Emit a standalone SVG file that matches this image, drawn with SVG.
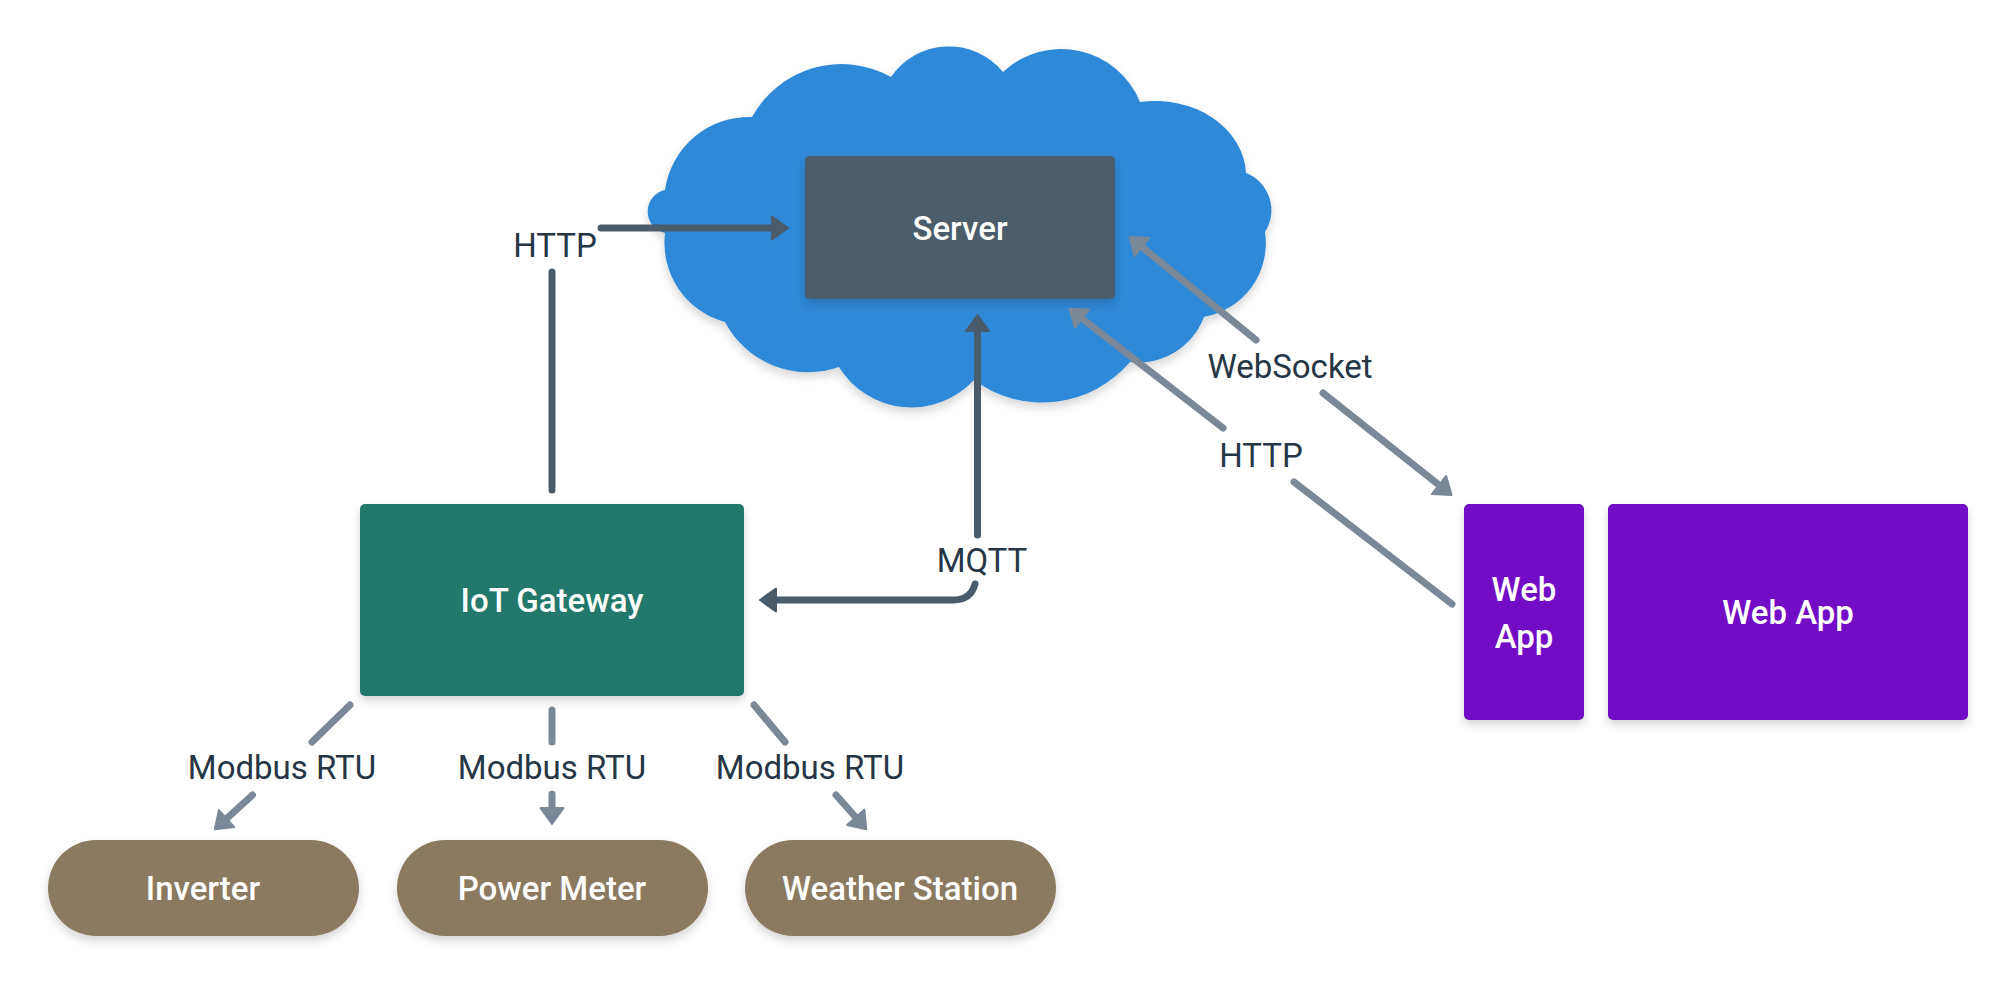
<svg xmlns="http://www.w3.org/2000/svg" width="2016" height="984" viewBox="0 0 2016 984">
<defs>
<filter id="sh" x="-20%" y="-20%" width="140%" height="150%">
<feDropShadow dx="0" dy="5" stdDeviation="5" flood-color="#000" flood-opacity="0.16"/>
</filter>
<marker id="arrD" markerUnits="userSpaceOnUse" markerWidth="21" markerHeight="28" viewBox="-2 -14 21 28" refX="0" refY="0" orient="auto" overflow="visible">
<path d="M0,-11.5 L16,0 L0,11.5 Z" fill="#4a5b6b" stroke="#4a5b6b" stroke-width="2" stroke-linejoin="round"/>
</marker>
<marker id="arrL" markerUnits="userSpaceOnUse" markerWidth="21" markerHeight="28" viewBox="-2 -14 21 28" refX="0" refY="0" orient="auto" overflow="visible">
<path d="M0,-11.5 L16,0 L0,11.5 Z" fill="#7a8897" stroke="#7a8897" stroke-width="2" stroke-linejoin="round"/>
</marker>
<style>
.lbl{font-family:Roboto,"Noto Sans",sans-serif;font-size:33px;font-weight:500;fill:#ffffff;text-anchor:middle}
.elbl{font-family:Roboto,"Noto Sans",sans-serif;font-size:33px;font-weight:400;fill:#263646;text-anchor:middle}
.cd{fill:none;stroke:#4a5b6b;stroke-width:7;stroke-linecap:round;stroke-linejoin:round}
.cl{fill:none;stroke:#7a8897;stroke-width:7;stroke-linecap:round;stroke-linejoin:round}
</style>
</defs>
<rect x="0" y="0" width="2016" height="984" fill="#ffffff"/>

<g id="cloud">
<path filter="url(#sh)" fill="#2e89d8" d="M665 190 A85 85 0 0 1 752 117 A102 102 0 0 1 891 77 A70 70 0 0 1 1003 72 A85 85 0 0 1 1140 102 A91 75 0 0 1 1246 173 A40 40 0 0 1 1265 232 A75 75 0 0 1 1204 317 A70 70 0 0 1 1130 362 A115 115 0 0 1 974 380 A85 85 0 0 1 839 367 A94 94 0 0 1 725 322 A82 82 0 0 1 665 233 A22 22 0 0 1 665 190 Z"/>
</g>

<g id="server">
<rect x="805" y="156" width="310" height="143" rx="5" fill="#4b5c6b" filter="url(#sh)"/>
<text class="lbl" x="960" y="240">Server</text>
</g>

<g id="gateway">
<rect x="360" y="504" width="384" height="192" rx="5" fill="#20786a" filter="url(#sh)"/>
<text class="lbl" x="552" y="612">IoT Gateway</text>
</g>

<g id="inverter">
<rect x="48" y="840" width="311" height="96" rx="48" fill="#8b7a5e" filter="url(#sh)"/>
<text class="lbl" x="203" y="900">Inverter</text>
</g>

<g id="powermeter">
<rect x="397" y="840" width="311" height="96" rx="48" fill="#8b7a5e" filter="url(#sh)"/>
<text class="lbl" x="552" y="900">Power Meter</text>
</g>

<g id="weatherstation">
<rect x="745" y="840" width="311" height="96" rx="48" fill="#8b7a5e" filter="url(#sh)"/>
<text class="lbl" x="900" y="900">Weather Station</text>
</g>

<g id="webapp-small">
<rect x="1464" y="504" width="120" height="216" rx="5" fill="#7311c5" filter="url(#sh)"/>
<text class="lbl" x="1524" y="601">Web</text>
<text class="lbl" x="1524" y="648">App</text>
</g>

<g id="webapp">
<rect x="1608" y="504" width="360" height="216" rx="5" fill="#7311c5" filter="url(#sh)"/>
<text class="lbl" x="1788" y="624">Web App</text>
</g>

<g id="connectors">
<path class="cd" d="M552 490 L552 272"/>
<path class="cd" d="M601 228 L772 228" marker-end="url(#arrD)"/>
<text class="elbl" x="555" y="257">HTTP</text>

<path class="cd" d="M977.5 535 L977.5 331" marker-end="url(#arrD)"/>
<path class="cd" d="M975 584 Q971 600 953 600 L776 600" marker-end="url(#arrD)"/>
<text class="elbl" x="982" y="572">MQTT</text>

<path class="cl" d="M1256 340 L1142 247" marker-end="url(#arrL)"/>
<path class="cl" d="M1323 393 L1439 485" marker-end="url(#arrL)"/>
<text class="elbl" x="1290" y="378">WebSocket</text>

<path class="cl" d="M1223 428 L1082 318.5" marker-end="url(#arrL)"/>
<path class="cl" d="M1294 482 L1452 604"/>
<text class="elbl" x="1261" y="467">HTTP</text>

<path class="cl" d="M350 705 L312 742"/>
<path class="cl" d="M252.5 795 L226.6 818.6" marker-end="url(#arrL)"/>
<text class="elbl" x="282" y="779">Modbus RTU</text>

<path class="cl" d="M552 710 L552 742"/>
<path class="cl" d="M552 794 L552 808" marker-end="url(#arrL)"/>
<text class="elbl" x="552" y="779">Modbus RTU</text>

<path class="cl" d="M754 705 L785 742"/>
<path class="cl" d="M836 795 L855.7 817.3" marker-end="url(#arrL)"/>
<text class="elbl" x="810" y="779">Modbus RTU</text>
</g>
</svg>
